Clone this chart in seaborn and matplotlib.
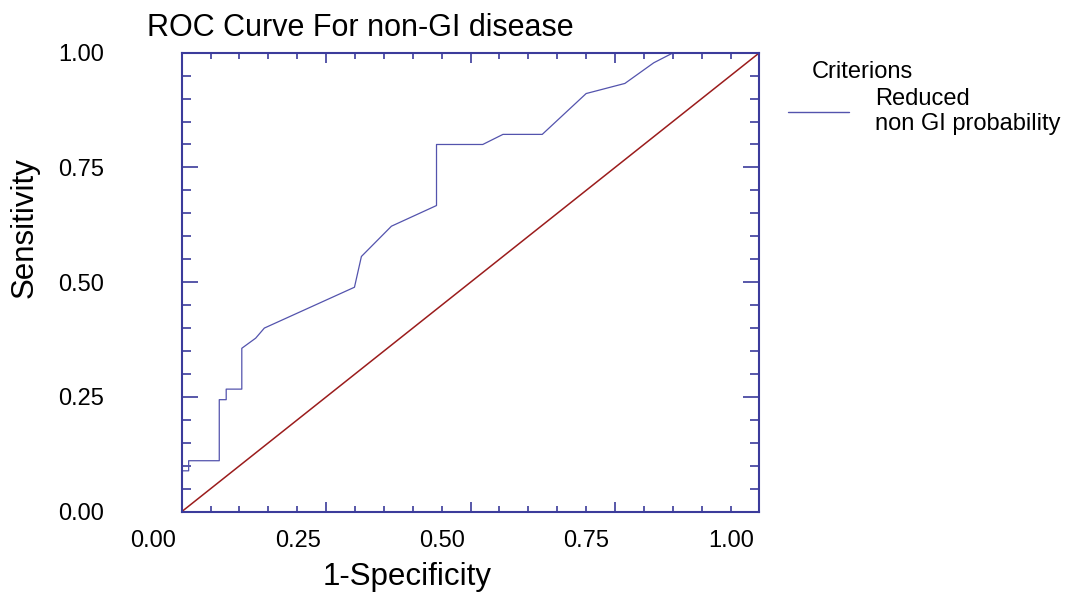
import matplotlib
matplotlib.use("Agg")
import matplotlib.pyplot as plt
import matplotlib.transforms as mtransforms
from matplotlib.lines import Line2D
from matplotlib.ticker import MultipleLocator
import seaborn as sns
import pandas as pd

# ---- data ----
fpr = [0, 0, 0.012, 0.012, 0.065, 0.065, 0.077, 0.077, 0.104, 0.104, 0.128, 0.143,
       0.299, 0.311, 0.363, 0.441, 0.441, 0.521, 0.556, 0.624, 0.700, 0.767, 0.817,
       0.851, 1.0]
tpr = [0, 0.089, 0.089, 0.111, 0.111, 0.244, 0.244, 0.267, 0.267, 0.356, 0.378, 0.400,
       0.489, 0.556, 0.622, 0.667, 0.800, 0.800, 0.822, 0.822, 0.911, 0.933, 0.978,
       1.0, 1.0]
diag_x = [0.0, 1.0]
diag_y = [0.0, 1.0]
tick_vals = [0.0, 0.25, 0.5, 0.75, 1.0]
tick_labels = ["0.00", "0.25", "0.50", "0.75", "1.00"]
series_label = "Reduced\nnon GI probability"
legend_title = "Criterions"

sns.set_style("ticks")
plt.rcParams["font.family"] = ["Liberation Sans", "DejaVu Sans"]
plt.rcParams["text.color"] = "black"
plt.rcParams["axes.labelcolor"] = "black"

fig = plt.figure(figsize=(10.67, 5.94), dpi=100)
ax = fig.add_axes([0.1703, 0.1386, 0.5415, 0.7727])

roc = pd.DataFrame({"fpr": fpr, "tpr": tpr})
diag = pd.DataFrame({"x": diag_x, "y": diag_y})

curve_color = "#5353ad"
sns.lineplot(data=diag, x="x", y="y", ax=ax, color="#9b1c1c", lw=1.1,
             estimator=None, sort=False, legend=False)
sns.lineplot(data=roc, x="fpr", y="tpr", ax=ax, color=curve_color, lw=0.9,
             estimator=None, sort=False, legend=False)

ax.set_xlim(0, 1)
ax.set_ylim(0, 1)

spine_color = "#3b3b9b"
for s in ax.spines.values():
    s.set_color(spine_color)
    s.set_linewidth(1.5)

ax.set_xticks(tick_vals)
ax.set_xticklabels(tick_labels)
ax.set_yticks(tick_vals)
ax.set_yticklabels(tick_labels)
ax.xaxis.set_minor_locator(MultipleLocator(0.05))
ax.yaxis.set_minor_locator(MultipleLocator(0.05))

ax.tick_params(axis="both", which="both", direction="in", colors=spine_color,
               labelcolor="black", top=True, right=True, width=1.2)
ax.tick_params(axis="x", which="major", length=7.2, labelsize=17, pad=13.5)
ax.tick_params(axis="x", which="minor", length=4.2)
ax.tick_params(axis="y", which="major", length=11.5, labelsize=17, pad=56)
ax.tick_params(axis="y", which="minor", length=6.5)

# x tick labels sit left of their ticks in the reference
offset = mtransforms.ScaledTranslation(-0.285, 0, fig.dpi_scale_trans)
for lab in ax.get_xticklabels():
    lab.set_transform(lab.get_transform() + offset)

ax.set_xlabel("")
ax.set_ylabel("")
fig.text(407 / 1067, 1 - 585 / 594, "1-Specificity", fontsize=22.5,
         ha="center", va="baseline")
fig.text(24.5 / 1067, 1 - 228 / 594, "Sensitivity", fontsize=22.5,
         ha="center", va="center", rotation=90)
fig.text(147 / 1067, 1 - 28 / 594, "ROC Curve For non-GI disease", fontsize=22,
         ha="left", va="center")

# legend
fig.text(812 / 1067, 1 - 72 / 594, legend_title, fontsize=17, ha="left", va="center")
handle = Line2D([], [], color=curve_color, lw=1.0)
ax.legend([handle], [series_label], loc="upper left",
          bbox_to_anchor=(788 / 1067, 1 - 88 / 594), bbox_transform=fig.transFigure,
          frameon=False, fontsize=17, handlelength=2.6, handletextpad=1.1,
          borderaxespad=0, borderpad=0, labelspacing=0)

fig.savefig("out.png", dpi=100)
